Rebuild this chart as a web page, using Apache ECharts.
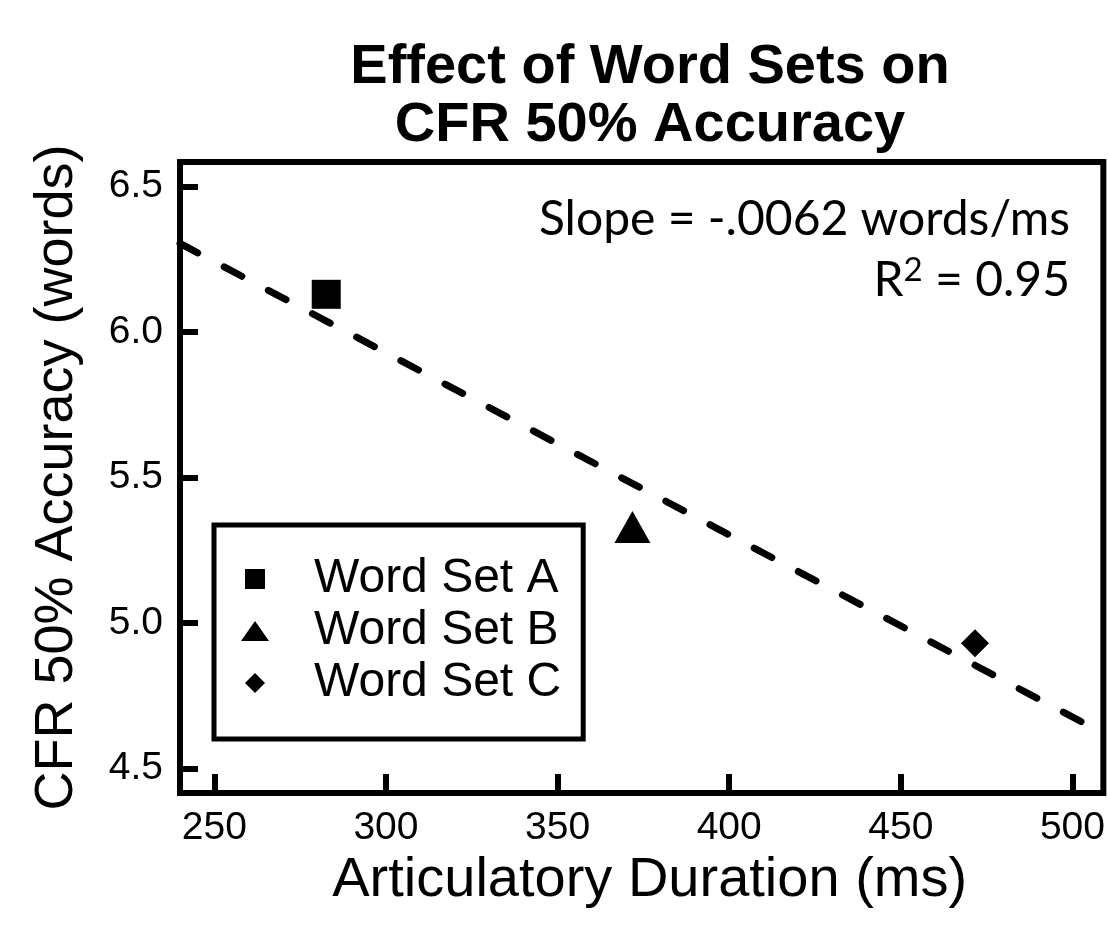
<!DOCTYPE html>
<html>
<head>
<meta charset="utf-8">
<script src="https://cdn.jsdelivr.net/npm/echarts@6/dist/echarts.min.js"></script>
<style>
  html, body { margin: 0; padding: 0; background: #fff; }
  #chart { width: 1108px; height: 926px; }
</style>
</head>
<body>
<div id="chart"></div>
<script>
// word sets: articulatory duration (ms) vs CFR 50% accuracy (words)
var setNames = ['Word Set A', 'Word Set B', 'Word Set C'];
var durations = [282.6, 371.8, 471.6];
var accuracy = [6.13, 5.33, 4.93];
// regression line end points
var fitX = [240, 509];
var fitY = [6.305, 4.62];
var xTicks = [250, 300, 350, 400, 450, 500];
var yTicks = [4.5, 5.0, 5.5, 6.0, 6.5];

var FONT = '"Liberation Sans", Arial, Helvetica, sans-serif';
var NOTE_FONT = 'Lato, "Open Sans", sans-serif';
var symbols = ['rect', 'triangle', 'diamond'];
var symbolSizes = [29, [36, 32], 28];
// legend icons (path icons keep aspect)
var legendIcons = ['path://M0,0h1v1h-1z', 'triangle', 'path://M1,0L2,1L1,2L0,1Z'];

var chart = echarts.init(document.getElementById('chart'));

var series = setNames.map(function (name, i) {
  return {
    name: name,
    type: 'scatter',
    symbol: symbols[i],
    symbolSize: symbolSizes[i],
    itemStyle: { color: '#000', opacity: 1 },
    z: 5,
    data: [[durations[i], accuracy[i]]]
  };
});
series.unshift({
  name: 'fit',
  type: 'line',
  symbol: 'none',
  silent: true,
  lineStyle: { color: '#000', width: 7, type: [20, 30], cap: 'round' },
  data: fitX.map(function (x, i) { return [x, fitY[i]]; })
});

var option = {
  backgroundColor: '#fff',
  animation: false,
  textStyle: { fontFamily: FONT, color: '#000' },
  title: {
    text: 'Effect of Word Sets on\nCFR 50% Accuracy',
    left: 645,
    top: 34,
    textAlign: 'center',
    textStyle: {
      fontFamily: FONT,
      fontWeight: 'bold',
      fontSize: 56,
      lineHeight: 58,
      color: '#000'
    }
  },
  grid: {
    left: 180, right: 3, top: 162, bottom: 133,
    show: true,
    borderColor: '#000',
    borderWidth: 6,
    backgroundColor: '#fff'
  },
  xAxis: {
    type: 'value',
    min: 240,
    max: 509,
    name: 'Articulatory Duration (ms)',
    nameLocation: 'middle',
    nameGap: 46,
    nameTextStyle: { fontFamily: FONT, fontSize: 56, color: '#000', padding: [0, 0, 0, 16] },
    axisLine: { show: false },
    splitLine: { show: false },
    axisTick: {
      show: true, inside: true, length: 19,
      lineStyle: { color: '#000', width: 6 },
      customValues: xTicks
    },
    axisLabel: {
      fontFamily: FONT, fontSize: 39, color: '#000', margin: 16,
      customValues: xTicks
    }
  },
  yAxis: {
    type: 'value',
    min: 4.415,
    max: 6.585,
    name: 'CFR 50% Accuracy (words)',
    nameLocation: 'middle',
    nameGap: 96,
    nameTextStyle: { fontFamily: FONT, fontSize: 54, color: '#000' },
    axisLine: { show: false },
    splitLine: { show: false },
    axisTick: {
      show: true, inside: true, length: 18,
      lineStyle: { color: '#000', width: 6 },
      customValues: yTicks
    },
    axisLabel: {
      fontFamily: FONT, fontSize: 39, color: '#000', margin: 17,
      customValues: yTicks,
      formatter: function (v) { return v.toFixed(1); }
    }
  },
  legend: {
    data: setNames.map(function (n, i) {
      return { name: n, icon: legendIcons[i] };
    }),
    orient: 'vertical',
    left: 214,
    top: 525,
    itemWidth: 28,
    itemHeight: 20,
    itemGap: 0,
    padding: [28, 22, 30, 27],
    backgroundColor: '#fff',
    borderColor: '#000',
    borderWidth: 5,
    borderRadius: 0,
    selectedMode: false,
    itemStyle: { color: '#000' },
    textStyle: {
      fontFamily: FONT, fontSize: 48, color: '#000',
      lineHeight: 52, padding: [0, 0, 0, 40]
    }
  },
  graphic: [
    {
      type: 'text',
      right: 38,
      top: 196,
      style: {
        text: 'Slope = -.0062 words/ms',
        font: '48px ' + NOTE_FONT,
        fill: '#000'
      }
    },
    {
      type: 'text',
      right: 38,
      top: 254,
      style: {
        text: 'R{s|2} = 0.95',
        font: '48px ' + NOTE_FONT,
        fill: '#000',
        rich: {
          s: { font: '33px ' + NOTE_FONT, fill: '#000', verticalAlign: 'top', lineHeight: 54 }
        }
      }
    }
  ],
  series: series
};

chart.setOption(option);
</script>
</body>
</html>
